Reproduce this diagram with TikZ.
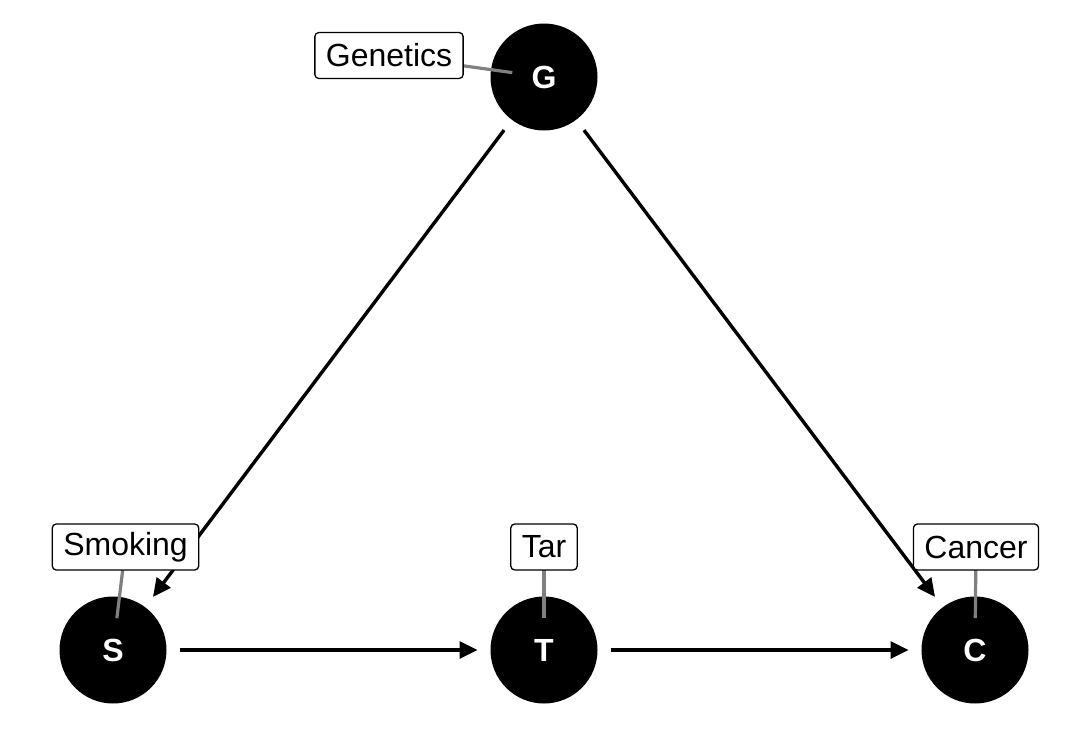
\documentclass[tikz,border=0pt]{standalone}
\usepackage{fontspec}
\setmainfont{Liberation Sans}
\usetikzlibrary{arrows.meta,calc}

\begin{document}
\begin{tikzpicture}[x=1pt, y=-1pt,
	main node/.style={circle,fill=black,text=white,minimum size=107pt,inner sep=0pt,outer sep=13pt,font=\fontsize{32}{34}\selectfont\bfseries},
	label node/.style={draw=black,line width=1.3pt,fill=white,rounded corners=4pt,inner xsep=11pt,minimum height=46pt,font=\fontsize{32}{35}\selectfont},
	edge arrow/.style={line width=3.4pt,-{Triangle[length=18pt,width=17pt]}},
	leader/.style={draw=black!50,line width=3.2pt}]
	
	\useasboundingbox (0,0) rectangle (1080,734);
	
	\node[main node] (g) at (544,77) {G};
	\node[main node] (s) at (113,650) {S};
	\node[main node] (t) at (544,650) {T};
	\node[main node] (c) at (975,650) {C};
	
	\path[edge arrow]
	(g) edge (s)
	edge (c)
	(s) edge (t)
	(t) edge (c);
	
	\coordinate (glab) at (389,55.5);
	\coordinate (slab) at (125.5,547);
	\coordinate (tlab) at (544,547);
	\coordinate (clab) at (976,547);
	
	\draw[leader] ($(g.center)!32pt!(glab)$) -- (glab);
	\draw[leader] ($(s.center)!32pt!(slab)$) -- (slab);
	\draw[leader] ($(t.center)!32pt!(tlab)$) -- (tlab);
	\draw[leader] ($(c.center)!32pt!(clab)$) -- (clab);
	
	\node[label node] (genetics) at (glab) {Genetics};
	\node[label node] (smoking) at (slab) {Smoking};
	\node[label node] (tar) at (tlab) {Tar};
	\node[label node] (cancer) at (clab) {Cancer};
\end{tikzpicture}
\end{document}
